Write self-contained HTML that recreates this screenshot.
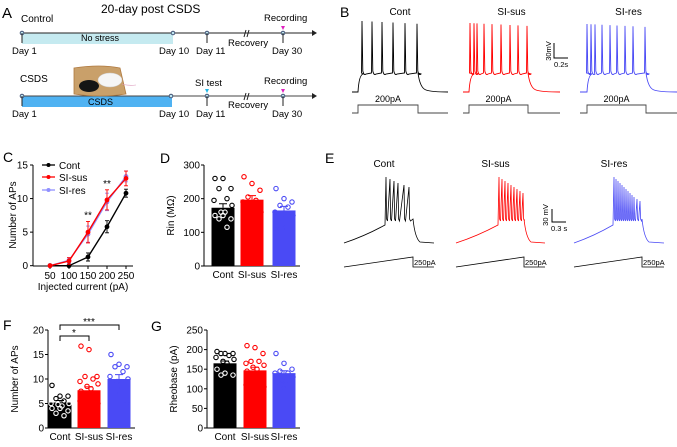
<!DOCTYPE html>
<html><head><meta charset="utf-8"><style>
html,body{margin:0;padding:0;background:#fff;}
svg{display:block;font-family:"Liberation Sans",Arial,sans-serif;}
</style></head><body>
<svg id="fig" width="677" height="447" viewBox="0 0 677 447" xmlns="http://www.w3.org/2000/svg">
<g font-size="9.5">
<text x="2" y="18" font-size="15">A</text>
<text x="101" y="13" font-size="12">20-day post CSDS</text>
<text x="21" y="22" font-size="10">Control</text>
<rect x="22" y="33" width="151" height="11" fill="#c5eaf0"/>
<line x1="22" y1="33" x2="312" y2="33" stroke="#222" stroke-width="1"/>
<polygon points="312,30 317,33 312,36" fill="#222"/>
<text x="81" y="41" font-size="9">No stress</text>
<circle cx="22" cy="33" r="1.8" fill="#bfe6f0" stroke="#457"/>
<circle cx="173" cy="33" r="1.8" fill="#bfe6f0" stroke="#457"/>
<circle cx="207" cy="33" r="1.8" fill="#bfe6f0" stroke="#457"/>
<circle cx="283" cy="33" r="1.8" fill="#bfe6f0" stroke="#457"/>
<line x1="207" y1="33" x2="207" y2="43" stroke="#222"/><line x1="283" y1="33" x2="283" y2="43" stroke="#222"/><line x1="22" y1="33" x2="22" y2="43" stroke="#222"/>
<path d="M244,37 l2,-7 M247,37 l2,-7" stroke="#222" fill="none"/>
<polygon points="281,26 285,26 283,30" fill="#e020c0"/>
<text x="264" y="21">Recording</text>
<text x="228" y="46">Recovery</text>
<text x="12" y="54">Day 1</text><text x="159" y="54">Day 10</text><text x="196" y="54">Day 11</text><text x="272" y="54">Day 30</text>
<text x="20" y="82" font-size="10">CSDS</text>
<rect x="22" y="96" width="150" height="11" fill="#4fb2f2"/>
<line x1="22" y1="96" x2="312" y2="96" stroke="#444"/>
<polygon points="312,93 317,96 312,99" fill="#222"/>
<text x="88" y="105" font-size="9">CSDS</text>
<g>
<path d="M74,68 Q100,64 120,68 L126,94 Q100,98 74,94 Z" fill="#c9a06a" stroke="#b07a40" stroke-width="0.8"/>
<ellipse cx="110" cy="80" rx="12" ry="7" fill="#f5f5f5" stroke="#ccc" stroke-width="0.5"/>
<ellipse cx="89" cy="86" rx="10" ry="6" fill="#151515"/>
<path d="M122,84 q6,2 14,1" stroke="#d9b" fill="none" stroke-width="0.6"/>
</g>
<circle cx="22" cy="96" r="1.8" fill="#bfe6f0" stroke="#457"/><circle cx="171" cy="96" r="1.8" fill="#bfe6f0" stroke="#457"/><circle cx="207" cy="96" r="1.8" fill="#bfe6f0" stroke="#457"/><circle cx="283" cy="96" r="1.8" fill="#bfe6f0" stroke="#457"/>
<line x1="207" y1="96" x2="207" y2="106" stroke="#222"/><line x1="283" y1="96" x2="283" y2="106" stroke="#222"/><line x1="22" y1="96" x2="22" y2="106" stroke="#222"/>
<path d="M244,100 l2,-7 M247,100 l2,-7" stroke="#222" fill="none"/>
<polygon points="205,89 209,89 207,93" fill="#20b8e8"/><polygon points="281,89 285,89 283,93" fill="#e020c0"/>
<text x="195" y="86">SI test</text><text x="264" y="84">Recording</text>
<text x="228" y="108">Recovery</text>
<text x="12" y="117">Day 1</text><text x="159" y="117">Day 10</text><text x="196" y="117">Day 11</text><text x="272" y="117">Day 30</text>
</g>
<text x="340" y="17" font-size="14">B</text>
<text x="325" y="163" font-size="14">E</text>
<text x="3" y="162" font-size="14">C</text>
<text x="160" y="163" font-size="14">D</text>
<text x="3" y="330" font-size="14">F</text>
<text x="151" y="331" font-size="14">G</text>
<g id="dyn"></g>
</svg>
<script>
// ---- data ----
const currents=[50,100,150,200,250];
const contAPs=[0,0,1.3,5.8,10.8];
const contErr=[0.2,0.2,0.6,0.9,0.6];
const susAPs=[0,0.7,5.0,9.8,13.0];
const susErr=[0.2,0.5,1.6,1.5,1.1];
const resAPs=[0,0.8,4.7,9.5,13.3];
const resErr=[0.2,0.4,1.2,1.3,0.8];
const cTicksY=[0,5,10,15];
const groups=["Cont","SI-sus","SI-res"];
const rinMeans=[173,197,165];
const rinSem=[12,12,12];
const rinCont=[260,260,230,230,200,195,180,160,160,150,150,140,140,115];
const rinSus=[265,245,225,205,195,190,160,150,145,145,140];
const rinRes=[230,200,190,180,175,160,150,140,115,110];
const rinTicks=[0,100,200,300];
const apMeans=[5.2,7.7,10.0];
const apSem=[0.4,0.7,0.9];
const apCont=[8.7,6.5,6.5,6.0,5.5,5.0,5.0,4.8,4.5,4.0,4.0,3.5,3.0,2.5];
const apSus=[16.7,16.0,10.5,10.5,10.0,9.5,9.0,8.5,8.0,7.5,7.0,7.0,6.5,6.0,5.5,5.0,5.0,4.5,4.0,4.0];
const apRes=[15.0,13.0,12.5,12.5,11.5,10.5,10.0,9.5,8.5,8.0,7.5,5.0];
const apTicks=[0,5,10,15,20];
const rhMeans=[165,147,140];
const rhSem=[6,8,6];
const rhCont=[195,190,190,190,185,180,175,170,165,150,140,135,135];
const rhSus=[210,205,190,170,170,165,160,155,150,145,140,130,120,115,110,105,100,95,90];
const rhRes=[190,165,150,145,140,140,130,120,110,105,100];
const rhTicks=[0,50,100,150,200,250];
// ---- helpers ----
const NS="http://www.w3.org/2000/svg";
const root=document.getElementById('dyn');
function mk(tag,attrs,parent,text){const e=document.createElementNS(NS,tag);for(const k in attrs)e.setAttribute(k,attrs[k]);if(text!==undefined)e.textContent=text;(parent||root).appendChild(e);return e;}
const COL=['#000','#f00','#4a4af5'];
const COLL=['#000','#f00','#9090ff'];

// ---- Panel C line chart ----
const cx=v=>50+(v-50)*(76/200);
const cy=v=>265.7-v*(100.7/15);
const gC=mk('g',{});


mk('line',{x1:33,y1:165,x2:33,y2:266,stroke:'#000'},gC);
mk('line',{x1:33,y1:266,x2:133,y2:266,stroke:'#000'},gC);
cTicksY.forEach(t=>{mk('line',{x1:30,x2:33,y1:cy(t),y2:cy(t),stroke:'#000'},gC);const l=mk('text',{x:28,y:cy(t)+3.5,'font-size':10,'text-anchor':'end'},gC,t);});
currents.forEach(c=>{mk('line',{x1:cx(c),x2:cx(c),y1:266,y2:269,stroke:'#000'},gC);const l=mk('text',{x:cx(c),y:279,'font-size':10,'text-anchor':'middle'},gC,c);});
const xt=mk('text',{x:83,y:290,'font-size':10,'text-anchor':'middle'},gC,'Injected current (pA)');

const yt=mk('text',{x:16,y:215,'font-size':10,'text-anchor':'middle',transform:'rotate(-90 16 215)'},gC,'Number of APs');

[[contAPs,contErr,0],[resAPs,resErr,2],[susAPs,susErr,1]].forEach(([vals,errs,i])=>{
  const s=mk('g',{},gC);
  
  
  mk('polyline',{points:vals.map((v,k)=>cx(currents[k])+','+cy(v)).join(' '),fill:'none',stroke:COLL[i],'stroke-width':1.4},s);
  vals.forEach((v,k)=>{const x=cx(currents[k]);mk('path',{d:`M${x},${cy(v-errs[k])}V${cy(v+errs[k])}M${x-2},${cy(v-errs[k])}h4M${x-2},${cy(v+errs[k])}h4`,stroke:COLL[i],'stroke-width':0.9},s);
   const p=mk('circle',{cx:x,cy:cy(v),r:2.4,fill:COLL[i]},s);});
});
[['Cont',0,168],['SI-sus',1,180],['SI-res',2,193]].forEach(([n,i,y])=>{const lg=mk('g',{},gC);
 mk('line',{x1:42,x2:55,y1:y-3,y2:y-3,stroke:COLL[i],'stroke-width':1.3},lg);mk('circle',{cx:48.5,cy:y-3,r:2,fill:COLL[i]},lg);mk('text',{x:59,y:y+1,'font-size':10},lg,n);});
mk('text',{x:cx(150),y:cy(5.0+1.6)-3,'font-size':10,'text-anchor':'middle'},gC,'**');
mk('text',{x:cx(200),y:cy(9.8+1.5)-3,'font-size':10,'text-anchor':'middle'},gC,'**');

// ---- bar chart helper ----
function barChart(name,ax,y0,y1,max,ticks,means,sems,pts,centers,ytitle){
  const g=mk('g',{});
  
  
  const sy=v=>y0-v*(y0-y1)/max;
  mk('line',{x1:ax,y1:y1,x2:ax,y2:y0,stroke:'#000'},g);
  mk('line',{x1:ax,y1:y0,x2:centers[2]+16,y2:y0,stroke:'#000'},g);
  ticks.forEach(t=>{mk('line',{x1:ax-3,x2:ax,y1:sy(t),y2:sy(t),stroke:'#000'},g);const l=mk('text',{x:ax-4,y:sy(t)+3.5,'font-size':10,'text-anchor':'end'},g,t);});
  const tt=mk('text',{x:ax-30,y:(y0+y1)/2,'font-size':10,'text-anchor':'middle',transform:`rotate(-90 ${ax-30} ${(y0+y1)/2})`},g,ytitle);
  
  means.forEach((m,i)=>{const c=centers[i],w=23;
    const b=mk('rect',{x:c-w/2,y:sy(m),width:w,height:y0-sy(m),fill:COL[i]},g);
    
    mk('path',{d:`M${c},${sy(m)}V${sy(m+sems[i])}M${c-4},${sy(m+sems[i])}h8`,stroke:COL[i],'stroke-width':1},g);
    const l=mk('text',{x:c,y:y0+12,'font-size':10,'text-anchor':'middle'},g,groups[i]);
    const offs=[-8,0,8,-4,4,-9,9,-2,2];
    pts[i].forEach((v,k)=>{const p=mk('circle',{cx:c+offs[k%9],cy:sy(v),r:2.2,fill:'none',stroke:i==0?'#000':COL[i],'stroke-width':1.1},g);
      if(i==0&&v<m)p.setAttribute('stroke','#fff');
      });
  });
  return sy;
}
barChart('bar-chart-rin',204,266,165,300,rinTicks,rinMeans,rinSem,[rinCont,rinSus,rinRes],[223,252,284],'Rin (MΩ)');
barChart('bar-chart-ap-count',48,428,330,20,apTicks,apMeans,apSem,[apCont,apSus,apRes],[60,89,119],'Number of APs');
barChart('bar-chart-rheobase',207,428,330,250,rhTicks,rhMeans,rhSem,[rhCont,rhSus,rhRes],[225,255,284],'Rheobase (pA)');
const br=mk('g',{});
mk('path',{d:'M60,341V336H89V341',fill:'none',stroke:'#000'},br);mk('text',{x:74,y:336,'font-size':10,'text-anchor':'middle'},br,'*');
mk('path',{d:'M60,330V325H119V330',fill:'none',stroke:'#000'},br);mk('text',{x:89,y:325,'font-size':10,'text-anchor':'middle'},br,'***');

// ---- Traces ----
const bSpikes=[[362,372,382,393,405,417],[470,474,477,484,492,501,510,518,527],[587,591,595,602,610,617,625,633,645]];
const bX=[[352,358,418,448],[463,469,528,560],[580,587,646,677]];
const bTop=[21,23,24];
function stepTrace(i){const [x0,xs,xe,x1]=bX[i];let d=`M${x0},92H${xs}Q${xs+1},75 ${xs+5},74`;
 bSpikes[i].forEach(s=>{d+=`L${s-0.5},73L${s},${bTop[i]+(s-bSpikes[i][0])*0.05}L${s+0.8},71Q${s+2},76 ${s+4},74`;});
 d+=`L${xe},73Q${xe+2},88 ${xe+8},90Q${xe+14},92 ${x1},92`;return d;}
for(let i=0;i<3;i++){const g=mk('g',{});
 mk('path',{d:stepTrace(i),fill:'none',stroke:COL[i],'stroke-width':0.9},g);
 const [x0,xs,xe,x1]=bX[i];
 mk('path',{d:`M${x0},113H${xs}V105H${xe}V113H${x1}`,fill:'none',stroke:'#444','stroke-width':0.9},g);
 mk('text',{x:(xs+xe)/2,y:102,'font-size':9,'text-anchor':'middle'},g,'200pA');
 mk('text',{x:(x0+x1)/2,y:15,'font-size':10,'text-anchor':'middle'},g,groups[i]);}
mk('path',{d:'M554,43V58H568',fill:'none',stroke:'#000'});
mk('text',{x:551,y:51,'font-size':7.5,'text-anchor':'middle',transform:'rotate(-90 551 51)'},root,'30mV');
mk('text',{x:554,y:67,'font-size':7.5},root,'0.2s');
const eX=[[344,386,413,434],[456,499,524,545],[574,614,642,664]];
const eSpikes=[[386,390,394,398,404,409],[499,502,505,508,511,514,517,520,523],[614,616,618,620,622,624,626,628,630,632,634,637,640]];
for(let i=0;i<3;i++){const [x0,xo,xe,x1]=eX[i];const g=mk('g',{});
 let d=`M${x0},243Q${(x0+xo)/2},236 ${xo-1},225`;
 eSpikes[i].forEach((s,k)=>{d+=`L${s},${177+k*2}L${s+0.6},219L${s+1.5},221`;});
 d+=`L${xe},219Q${xe+2},238 ${xe+7},242L${x1},243`;
 mk('path',{d:d,fill:'none',stroke:COL[i],'stroke-width':0.8},g);
 mk('path',{d:`M${x0},267L${xe},257V267H${x1}`,fill:'none',stroke:'#000','stroke-width':0.8},g);
 mk('text',{x:xe+1,y:265,'font-size':7.5},g,'250pA');
 mk('text',{x:(x0+x1)/2-5,y:167,'font-size':10,'text-anchor':'middle'},g,groups[i]);}
mk('path',{d:'M552,209V222H566',fill:'none',stroke:'#000'});
mk('text',{x:548,y:215,'font-size':7.5,'text-anchor':'middle',transform:'rotate(-90 548 215)'},root,'30 mV');
mk('text',{x:551,y:231,'font-size':7.5},root,'0.3 s');
</script>
</body></html>
